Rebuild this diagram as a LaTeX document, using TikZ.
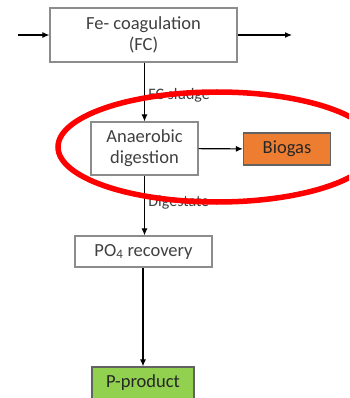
\documentclass[tikz,border=0pt]{standalone}
\usepackage{fontspec}
\setmainfont{Carlito}
\usetikzlibrary{arrows.meta}
\definecolor{txtgray}{HTML}{404040}
\definecolor{boxgray}{HTML}{8C8C8C}
\definecolor{biogasorange}{HTML}{ED7D31}
\definecolor{pgreen}{HTML}{92D050}
\begin{document}
\begin{tikzpicture}[x=1pt,y=-1pt,
    procbox/.style={draw=boxgray,line width=1.2pt,fill=white,text=txtgray,align=center,
        inner sep=0pt,font=\fontsize{18.5}{21}\selectfont},
    flow/.style={line width=1.1pt,-{Latex[length=7pt,width=6pt]}},
    flowlabel/.style={anchor=west,text=txtgray,font=\fontsize{16}{18}\selectfont}]
\fill[white] (0,0) rectangle (349,398);
\clip (0,0) rectangle (349,398);
\node[procbox,minimum width=187pt,minimum height=54pt] (fc) at (143.5,35) {Fe- coagulation\\(FC)};
\node[procbox,minimum width=107pt,minimum height=53pt] (ad) at (144.5,148.5) {Anaerobic\\digestion};
\node[procbox,fill=biogasorange,draw=boxgray!70!black,text=black!85,minimum width=87pt,minimum height=32pt] (biogas) at (287,149) {Biogas};
\node[procbox,minimum width=137pt,minimum height=31pt] (po) at (143.5,251.5) {PO\textsubscript{4} recovery};
\node[procbox,fill=pgreen,draw=boxgray!70!black,text=black!85,minimum width=102pt,minimum height=32pt] (pprod) at (143,383) {P-product};
\coordinate (fcin) at (18,35);
\coordinate (fcout) at (292,35);
\draw[flow] (fcin) -- (fc);
\draw[flow] (fc) -- (fcout);
\draw[flow] (fc.south -| ad.north) -- (ad.north) node[flowlabel,pos=0.55] {FC sludge};
\draw[flow] (ad) -- (biogas);
\draw[flow] (ad.south) -- (ad.south |- po.north) node[flowlabel,pos=0.45] {Digestate};
\draw[flow] (po.south -| pprod.north) -- (pprod.north);
% highlight
\draw[red,line width=5.5pt] (217,147) ellipse [x radius=159,y radius=55];
\end{tikzpicture}
\end{document}
